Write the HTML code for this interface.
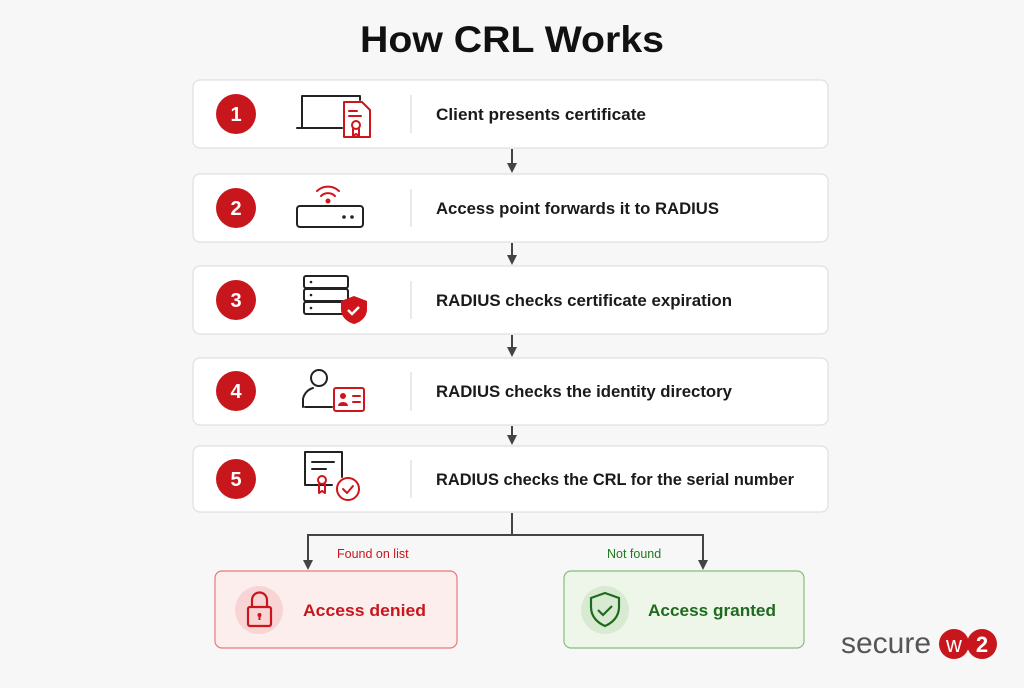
<!DOCTYPE html>
<html><head><meta charset="utf-8"><style>
body{margin:0;background:#f7f7f7;width:1024px;height:683px;overflow:hidden;font-family:"Liberation Sans",sans-serif}
</style></head><body>
<svg width="1024" height="683" viewBox="0 0 1024 683" xmlns="http://www.w3.org/2000/svg" font-family="Liberation Sans, sans-serif">
<rect width="1024" height="683" fill="#f7f7f7"/>
<text x="512" y="52" text-anchor="middle" font-size="37" font-weight="bold" fill="#111" textLength="304" lengthAdjust="spacingAndGlyphs">How CRL Works</text>
<defs><marker id="a" markerWidth="10" markerHeight="10" refX="5" refY="5" orient="auto" markerUnits="userSpaceOnUse"><path d="M0,0 L10,5 L0,10z" fill="#444"/></marker></defs>
<g fill="#fff" stroke="#e0e0e0" stroke-width="1.2">
<rect x="193" y="80" width="635" height="68" rx="7"/>
<rect x="193" y="174" width="635" height="68" rx="7"/>
<rect x="193" y="266" width="635" height="68" rx="7"/>
<rect x="193" y="358" width="635" height="67" rx="7"/>
<rect x="193" y="446" width="635" height="66" rx="7"/>
</g>
<g stroke="#ddd" stroke-width="1.2">
<line x1="411" y1="95" x2="411" y2="133"/><line x1="411" y1="189" x2="411" y2="227"/><line x1="411" y1="281" x2="411" y2="319"/><line x1="411" y1="372" x2="411" y2="411"/><line x1="411" y1="460" x2="411" y2="498"/>
</g>
<g fill="#c8161d"><circle cx="236" cy="114" r="20"/><circle cx="236" cy="208" r="20"/><circle cx="236" cy="300" r="20"/><circle cx="236" cy="391" r="20"/><circle cx="236" cy="479" r="20"/></g>
<g fill="#fff" font-size="20" font-weight="bold" text-anchor="middle"><text x="236" y="121">1</text><text x="236" y="215">2</text><text x="236" y="307">3</text><text x="236" y="398">4</text><text x="236" y="486">5</text></g>
<g font-size="16.8" font-weight="bold" fill="#1a1a1a"><text x="436" y="120" textLength="210" lengthAdjust="spacingAndGlyphs">Client presents certificate</text><text x="436" y="214" textLength="283" lengthAdjust="spacingAndGlyphs">Access point forwards it to RADIUS</text><text x="436" y="306" textLength="296" lengthAdjust="spacingAndGlyphs">RADIUS checks certificate expiration</text><text x="436" y="397" textLength="296" lengthAdjust="spacingAndGlyphs">RADIUS checks the identity directory</text><text x="436" y="485" textLength="358" lengthAdjust="spacingAndGlyphs">RADIUS checks the CRL for the serial number</text></g>
<g fill="none" stroke="#222" stroke-width="2" stroke-linecap="round" stroke-linejoin="round">
<path d="M302 127 V96 h58 v4 M297 128 h45"/>
<rect x="297" y="206" width="66" height="21" rx="3"/>
<rect x="304" y="276" width="44" height="12" rx="2"/><rect x="304" y="289" width="44" height="12" rx="2"/><rect x="304" y="302" width="44" height="12" rx="2"/>
<circle cx="319" cy="378" r="8"/><path d="M303 407 v-8 a14 14 0 0 1 10 -11 M305 407 h27"/>
<path d="M332 485 h-27 v-33 h37 v25"/><path d="M312 462 h22 M312 469 h14"/>
</g>
<g fill="#222"><circle cx="344" cy="217" r="1.8"/><circle cx="352" cy="217" r="1.8"/><circle cx="311" cy="282" r="1.3"/><circle cx="311" cy="295" r="1.3"/><circle cx="311" cy="308" r="1.3"/></g>
<g fill="none" stroke="#d0141c" stroke-width="2" stroke-linecap="round" stroke-linejoin="round">
<path d="M344 102 h18 l8 8 v27 h-26z"/><path d="M349 111 h8 M349 116 h12"/><circle cx="356" cy="125" r="4"/><path d="M353 129 v7 l3-2 3 2 v-7"/>
<path d="M317 191 a16 16 0 0 1 22 0 M321 196 a10 10 0 0 1 14 0"/>
<rect x="334" y="388" width="30" height="23" rx="2"/><path d="M353 396 h7 M353 402 h7"/>
<circle cx="348" cy="489" r="11"/><path d="M343 489 l4 4 6-7"/>
<circle cx="322" cy="480" r="4"/><path d="M319 484 v9 l3-2 3 2 v-9"/>
</g>
<circle cx="328" cy="201" r="2.5" fill="#d0141c"/>
<path d="M341 301 l13-5 13 5 v8 c0 8-6 13-13 15 c-7-2-13-7-13-15z" fill="#d0141c"/>
<path d="M348 310 l4 4 7-7" stroke="#fff" stroke-width="2.5" fill="none"/>
<g fill="#d0141c"><circle cx="343" cy="396" r="3"/><path d="M338 406 a5 4 0 0 1 10 0z"/></g>
<g stroke="#444" stroke-width="2" fill="none">
<line x1="512" y1="149" x2="512" y2="168" marker-end="url(#a)"/>
<line x1="512" y1="243" x2="512" y2="260" marker-end="url(#a)"/>
<line x1="512" y1="335" x2="512" y2="352" marker-end="url(#a)"/>
<line x1="512" y1="426" x2="512" y2="440" marker-end="url(#a)"/>
<path d="M512 513 V535 M308 535 H703"/>
<line x1="308" y1="534" x2="308" y2="565" marker-end="url(#a)"/>
<line x1="703" y1="534" x2="703" y2="565" marker-end="url(#a)"/>
</g>
<text x="337" y="558" font-size="12.5" fill="#c8161d">Found on list</text>
<text x="607" y="558" font-size="12.5" fill="#1e7a1e">Not found</text>
<rect x="215" y="571" width="242" height="77" rx="7" fill="#fdeeee" stroke="#e8797c" stroke-width="1.2"/>
<circle cx="259" cy="610" r="24" fill="#f9d4d4"/>
<g fill="none" stroke="#c8161d" stroke-width="2.2"><rect x="248" y="607" width="23" height="19" rx="2"/><path d="M252 607 v-7 a7.5 7.5 0 0 1 15 0 v7"/></g>
<circle cx="259.5" cy="615" r="2" fill="#c8161d"/><path d="M259.5 615 v5" stroke="#c8161d" stroke-width="2"/>
<text x="303" y="616" font-size="17" font-weight="bold" fill="#c8161d" textLength="123" lengthAdjust="spacingAndGlyphs">Access denied</text>
<rect x="564" y="571" width="240" height="77" rx="7" fill="#eef6ea" stroke="#86bd7c" stroke-width="1.2"/>
<circle cx="605" cy="610" r="24" fill="#d8ebd2"/>
<path d="M605 593 l14 5 v9 c0 10-7 16-14 19 c-7-3-14-9-14-19 v-9z" fill="none" stroke="#1e6b1e" stroke-width="2.2"/>
<path d="M598 610 l5 5 9-9" fill="none" stroke="#1e6b1e" stroke-width="2.2"/>
<text x="648" y="616" font-size="17" font-weight="bold" fill="#1e6b1e" textLength="128" lengthAdjust="spacingAndGlyphs">Access granted</text>
<text x="841" y="653" font-size="30" fill="#555">secure</text>
<circle cx="954" cy="644" r="15" fill="#c8161d"/><circle cx="982" cy="644" r="15" fill="#c8161d"/>
<text x="954" y="652" font-size="22" fill="#fff" text-anchor="middle">w</text>
<text x="982" y="652" font-size="22" font-weight="bold" fill="#fff" text-anchor="middle">2</text>
</svg>
</body></html>
